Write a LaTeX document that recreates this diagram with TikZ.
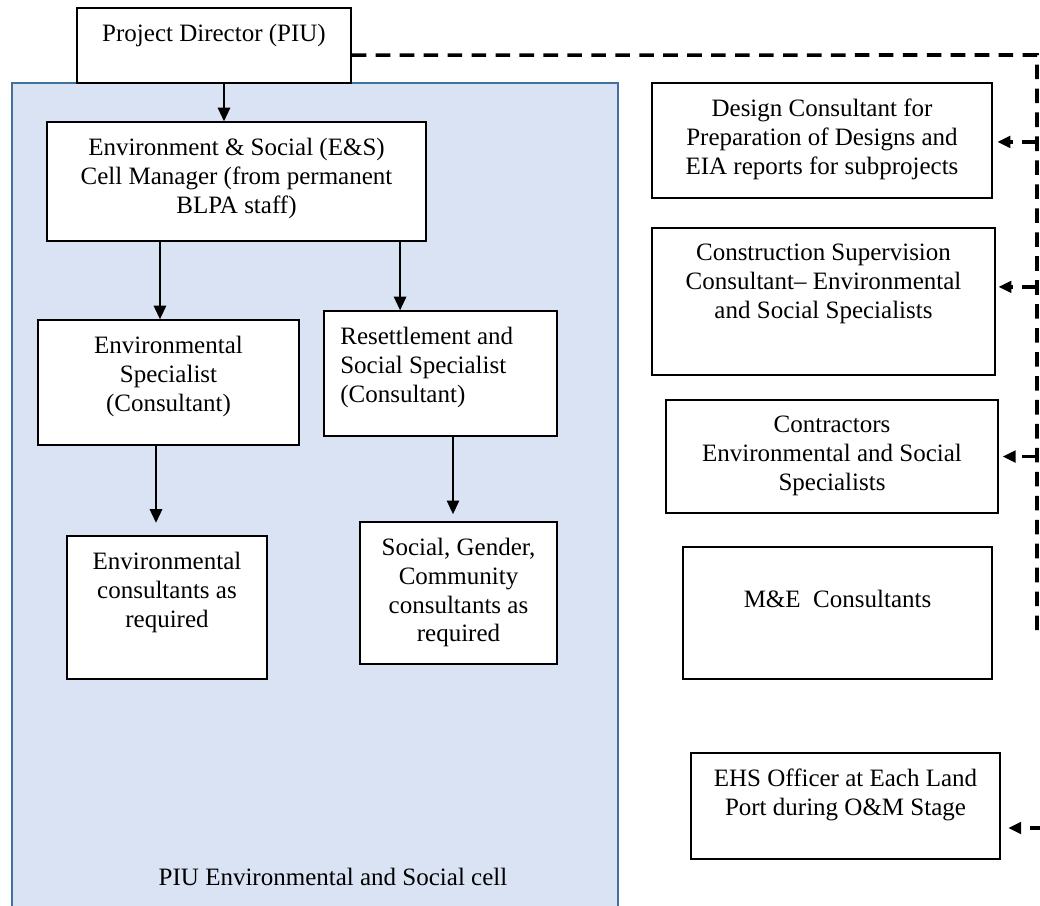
\documentclass[tikz,border=0pt]{standalone}
\usepackage{fontspec}
\setmainfont{Liberation Serif}
\usetikzlibrary{arrows.meta}
\definecolor{cellfill}{HTML}{DAE3F3}
\definecolor{cellline}{HTML}{41719C}
\begin{document}
\begin{tikzpicture}[x=0.48pt, y=-0.48pt,
  every node/.style={font=\fontsize{12pt}{13.8pt}\selectfont},
  box/.style={draw, fill=white, line width=0.75pt, inner sep=0pt},
  txt/.style={anchor=north, align=center, inner sep=0pt, yshift=-8pt},
  arr/.style={-{Triangle[length=6.5pt,width=6pt]}, line width=0.6pt},
  dline/.style={line width=1.7pt, dash pattern=on 7pt off 4.5pt},
  darr/.style={dline, -{Triangle[length=6pt,width=6pt,line width=0pt]}}]
\useasboundingbox (0,0) rectangle (1040,906);
\draw[fill=cellfill, draw=cellline, line width=1pt] (12,83) rectangle (618,920);
\node[box, minimum width=131.5pt, minimum height=36pt] (pd) at (214,45.5) {};
\node[txt] (pdt) at (pd.north) {Project Director (PIU)};
\node[box, minimum width=181.9pt, minimum height=57.1pt] (esm) at (236.5,181.5) {};
\node[txt] (esmt) at (esm.north) {Environment \& Social (E\&S)\\Cell Manager (from permanent\\BLPA staff)};
\node[box, minimum width=125.3pt, minimum height=60pt] (es) at (168.5,382.5) {};
\node[txt] (est) at (es.north) {Environmental\\Specialist\\(Consultant)};
\node[box, minimum width=111.8pt, minimum height=60pt] (rss) at (440.5,373.5) {};
\node[txt, anchor=north west, align=left, xshift=8pt] (rsst) at (rss.north west) {Resettlement and\\Social Specialist\\(Consultant)};
\node[box, minimum width=96pt, minimum height=68.6pt] (envc) at (167,607.5) {};
\node[txt] (envct) at (envc.north) {Environmental\\consultants as\\required};
\node[box, minimum width=94.6pt, minimum height=68.2pt] (soc) at (458.5,593) {};
\node[txt] (soct) at (soc.north) {Social, Gender,\\Community\\consultants as\\required};
\node (cell) at (333,877) {PIU Environmental and Social cell};
\node[box, minimum width=163.2pt, minimum height=55.2pt] (dc) at (822,140.5) {};
\node[txt] (dct) at (dc.north) {Design Consultant for\\Preparation of Designs and\\EIA reports for subprojects};
\node[box, minimum width=164.6pt, minimum height=70.6pt] (csc) at (823.5,301.5) {};
\node[txt] (csct) at (csc.north) {Construction Supervision\\Consultant– Environmental\\and Social Specialists};
\node[box, minimum width=159.4pt, minimum height=54.2pt] (con) at (832,456.5) {};
\node[txt] (cont) at (con.north) {Contractors\\Environmental and Social\\Specialists};
\node[box, minimum width=148.3pt, minimum height=63.4pt] (me) at (837.5,613) {};
\node[txt, yshift=-13pt] (met) at (me.north) {M\&E\ \ Consultants};
\node[box, minimum width=148.3pt, minimum height=50.9pt] (ehs) at (845.5,806) {};
\node[txt] (ehst) at (ehs.north) {EHS Officer at Each Land\\Port during O\&M Stage};
\draw[arr] ([xshift=4.8pt]pd.south) -- ([xshift=4.8pt]pd.south |- esm.north);
\draw[arr] ([xshift=-4.1pt]es.north |- esm.south) -- ([xshift=-4.1pt]es.north);
\draw[arr] ([xshift=-19.4pt]rss.north |- esm.south) -- ([xshift=-19.4pt]rss.north);
\draw[arr, shorten >=6pt] ([xshift=-6pt]es.south) -- ([xshift=-6pt]es.south |- envc.north);
\draw[arr, shorten >=3.4pt] ([xshift=6pt]rss.south) -- ([xshift=6pt]rss.south |- soc.north);
\coordinate (trunk) at (1037,55);
\coordinate (trunkend) at (1037,636);
\draw[dline] ([yshift=-4.6pt]pd.east) -- (trunk) -- (trunkend);
\draw[darr, shorten >=2.4pt] ([yshift=-0.7pt]trunk |- dc.east) -- ([yshift=-0.7pt]dc.east);
\draw[darr, shorten >=1.5pt] ([yshift=7pt]trunk |- csc.east) -- ([yshift=7pt]csc.east);
\draw[darr, shorten >=2pt] (trunk |- con.east) -- (con.east);
\coordinate (ehsin) at (1045,828);
\draw[darr, shorten >=3.8pt] (ehsin) -- (ehsin -| ehs.east);
\end{tikzpicture}
\end{document}
